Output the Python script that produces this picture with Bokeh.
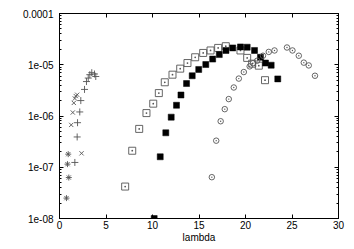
from bokeh.plotting import figure
from bokeh.models import LinearAxis, LogAxis, FixedTicker, LogTicker, CustomJSTickFormatter
from bokeh.embed import file_html
from bokeh.resources import INLINE

# ---- data ----
x_ticks = [0, 5, 10, 15, 20, 25, 30]

asterisk_x = [0.75, 0.86, 0.94, 1.0]
asterisk_y = [2.5e-8, 1.15e-7, 1.8e-7, 6.3e-8]

xmark_x = [1.26, 1.43, 1.54, 1.65, 1.75, 1.9, 2.37]
xmark_y = [6.7e-7, 1.17e-6, 1.8e-6, 2.2e-6, 2.45e-6, 2.6e-6, 1.87e-7]

plus_x = [1.65, 1.9, 1.94, 2.18, 2.29, 2.69, 2.9, 3.09, 3.26, 3.47, 3.76, 3.9]
plus_y = [1.24e-7, 3.9e-7, 7.4e-7, 1.2e-6, 2.0e-6, 3.3e-6, 4.7e-6, 5.5e-6,
          6.4e-6, 7.0e-6, 6.6e-6, 5.9e-6]

osq_x = [7.06, 7.82, 8.57, 9.35, 10.08, 10.68, 11.32, 12.15, 12.98, 13.76,
         14.59, 15.45, 16.24, 17.06, 17.88, 19.46, 20.18, 20.72, 21.43, 22.1]
osq_y = [4.2e-8, 2.1e-7, 5.6e-7, 1.14e-6, 1.74e-6, 2.8e-6, 4.55e-6, 6.4e-6,
         8.4e-6, 1.08e-5, 1.4e-5, 1.7e-5, 1.9e-5, 2.13e-5, 2.3e-5, 1.9e-5,
         1.36e-5, 1.05e-5, 9.6e-6, 5.0e-6]

fsq_x = [10.18, 10.83, 11.43, 12.01, 12.58, 13.06, 13.66, 14.27, 14.97, 15.73,
         16.47, 17.18, 17.9, 18.63, 19.46, 20.18, 20.97, 21.61, 22.15, 22.76, 23.47]
fsq_y = [1.0e-8, 1.6e-7, 4.7e-7, 9.5e-7, 1.62e-6, 2.57e-6, 4.3e-6, 6.1e-6,
         8.1e-6, 1.01e-5, 1.29e-5, 1.58e-5, 1.9e-5, 2.13e-5, 2.23e-5, 2.2e-5,
         1.9e-5, 1.4e-5, 1.08e-5, 9.8e-6, 5.3e-6]

circ_x = [16.38, 16.85, 17.33, 17.77, 18.2, 18.74, 19.28, 19.82, 20.45, 20.8,
          21.26, 21.88, 22.5, 23.12, 24.46, 25.05, 25.73, 26.27, 26.8, 27.47]
circ_y = [6.4e-8, 3.3e-7, 7.9e-7, 1.36e-6, 2.14e-6, 3.6e-6, 5.37e-6, 7.2e-6,
          9.3e-6, 1.07e-5, 1.2e-5, 1.5e-5, 1.78e-5, 1.9e-5, 2.17e-5, 1.9e-5,
          1.5e-5, 1.1e-5, 9.7e-6, 6.1e-6]

FONT = "Liberation Sans"

p = figure(width=346, height=249, output_backend="svg", toolbar_location=None,
           x_range=(0, 30), y_range=(1e-8, 1e-4), y_axis_type="log",
           x_axis_location=None, y_axis_location=None,
           min_border_left=59, min_border_right=8, min_border_top=13, min_border_bottom=31)
p.outline_line_color = "black"
p.outline_line_width = 1
p.grid.visible = False
p.background_fill_color = "white"
p.border_fill_color = "white"

fmt = CustomJSTickFormatter(code="""
const e = Math.round(Math.log10(tick));
if (e == -4) { return "0.0001"; }
const a = Math.abs(e);
return "1e-" + (a < 10 ? "0" + a : "" + a);
""")

def style_x(ax, labels=True):
    ax.ticker = FixedTicker(ticks=x_ticks)
    ax.major_tick_in = 4
    ax.major_tick_out = 0
    ax.minor_tick_in = 0
    ax.minor_tick_out = 0
    ax.axis_line_color = "black"
    ax.major_tick_line_color = "black"
    ax.major_label_text_font = FONT
    ax.major_label_text_font_size = "10px"
    ax.major_label_text_color = "black"
    ax.major_label_standoff = 2
    if not labels:
        ax.major_label_text_alpha = 0
        ax.major_label_text_font_size = "1px"
        ax.major_label_standoff = 0

def style_y(ax, labels=True):
    ax.ticker = LogTicker(desired_num_ticks=5, num_minor_ticks=10)
    ax.major_tick_in = 4
    ax.major_tick_out = 0
    ax.minor_tick_in = 2
    ax.minor_tick_out = 0
    ax.axis_line_color = "black"
    ax.major_tick_line_color = "black"
    ax.minor_tick_line_color = "black"
    ax.major_label_text_font = FONT
    ax.major_label_text_font_size = "10px"
    ax.major_label_text_color = "black"
    ax.major_label_standoff = 6
    ax.formatter = fmt
    if not labels:
        ax.major_label_text_alpha = 0
        ax.major_label_text_font_size = "1px"
        ax.major_label_standoff = 0

xb = LinearAxis(axis_label="lambda")
style_x(xb)
xb.axis_label_text_font = FONT
xb.axis_label_text_font_size = "10px"
xb.axis_label_text_font_style = "normal"
xb.axis_label_text_color = "black"
xb.axis_label_standoff = 0
p.add_layout(xb, "below")

xt = LinearAxis()
style_x(xt, labels=False)
p.add_layout(xt, "above")

yl = LogAxis()
style_y(yl)
p.add_layout(yl, "left")

yr = LogAxis()
style_y(yr, labels=False)
p.add_layout(yr, "right")

GRAY = "#555555"
p.scatter(asterisk_x, asterisk_y, marker="asterisk", size=6, line_color=GRAY, line_width=0.9)
p.scatter(xmark_x, xmark_y, marker="x", size=6, line_color=GRAY, line_width=0.9)
p.scatter(plus_x, plus_y, marker="cross", size=7, line_color=GRAY, line_width=0.9)
p.scatter(osq_x, osq_y, marker="square_dot", size=7, line_color=GRAY, fill_color=None, line_width=0.9)
p.scatter(fsq_x, fsq_y, marker="square", size=6, line_color="black", fill_color="black", line_width=0.5)
p.scatter(circ_x, circ_y, marker="circle_dot", size=5.5, line_color=GRAY, fill_color=None, line_width=0.9)

open("out.html", "w").write(file_html(p, INLINE))
